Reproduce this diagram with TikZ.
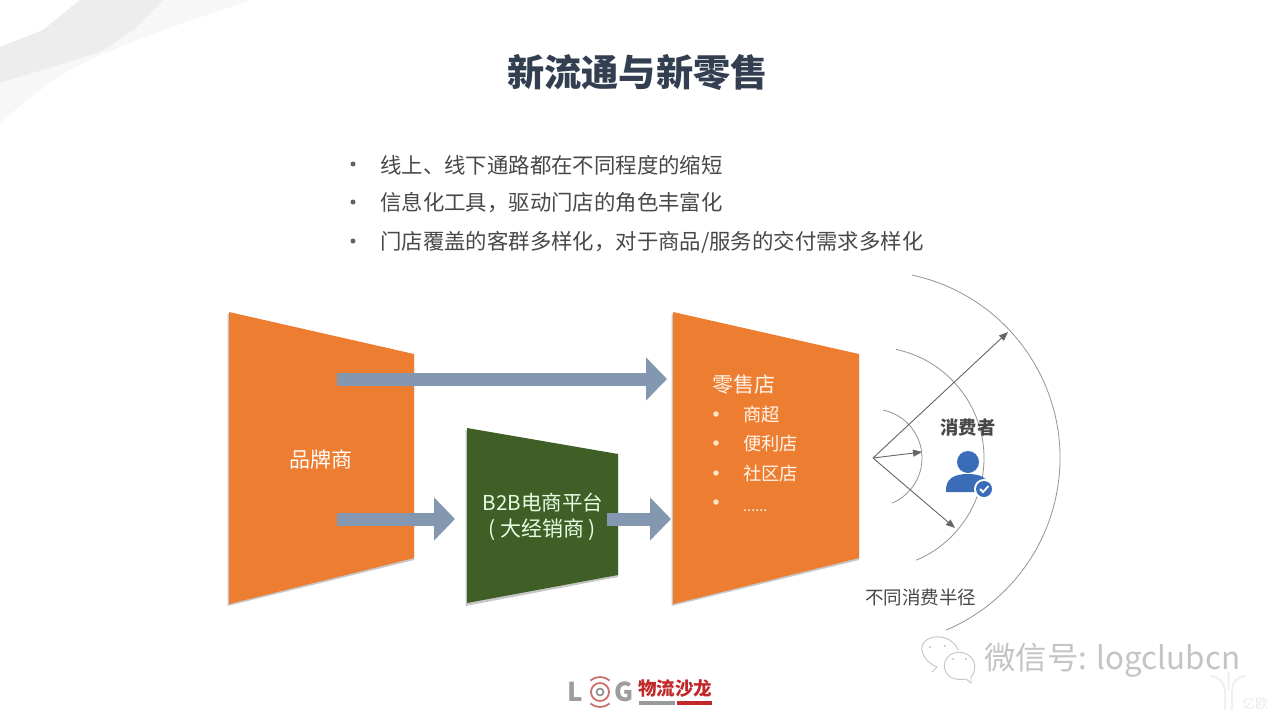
\documentclass[tikz,border=0pt]{standalone}
\usepackage{fontspec}
\usetikzlibrary{arrows.meta,calc}
\setmainfont{Noto Sans CJK SC}
\definecolor{orangebox}{HTML}{ED7D31}
\definecolor{greenbox}{HTML}{3F5F26}
\definecolor{flow}{HTML}{8497B0}
\definecolor{titlecol}{HTML}{333F50}
\definecolor{bodycol}{HTML}{484848}
\definecolor{iconblue}{HTML}{3A6CB8}
\definecolor{wm}{HTML}{C4C4C4}
\definecolor{logored}{HTML}{C0282A}
\definecolor{logopink}{HTML}{C9706C}
\tikzset{
  x=1pt,y=-1pt,
  boxshadow/.style={fill=black,opacity=.22,draw=none},
  orangeshape/.style={fill=orangebox,draw=none},
  greenshape/.style={fill=greenbox,draw=none},
  flowarrow/.style={draw=flow,line width=13pt,-{Triangle[length=21pt,width=42pt]}},
  radiusarc/.style={draw=black!42,line width=.8pt},
  radiusarrow/.style={draw=black!60,line width=.9pt,-{Triangle[length=9pt,width=7pt]}},
  bullettext/.style={anchor=west,text=bodycol,font=\fontsize{21.4}{24}\selectfont,inner sep=0pt},
  dotmark/.style={circle,fill=black!62,draw=none,minimum size=5pt,inner sep=0pt},
  boxtext/.style={text=white,inner sep=0pt},
  storebullet/.style={circle,fill=orange!20!white,draw=none,minimum size=5.5pt,inner sep=0pt},
  storeitem/.style={anchor=west,text=orange!8!white,font=\fontsize{18.3}{22}\selectfont,inner sep=0pt},
}
\begin{document}
\begin{tikzpicture}
\useasboundingbox (0,0) rectangle (1280,720);
\fill[white] (0,0) rectangle (1280,720);
% background swoosh
\fill[black!3] (0,47) -- (43,30) -- (80,0) -- (250,0) .. controls (200,18) and (150,32) .. (83,63) .. controls (60,75) and (40,88) .. (0,123) -- cycle;
\fill[black!7] (0,47) -- (43,30) -- (80,0) -- (163,0) -- (133,30) -- (100,52) -- (0,83) -- cycle;
% title and bullets
\node[inner sep=0pt,text=titlecol,font=\fontsize{37.2}{40}\selectfont\bfseries] (title) at (637.5,73) {新流通与新零售};
\node[dotmark] (d1) at (353,164) {};
\node[dotmark] (d2) at (353,202) {};
\node[dotmark] (d3) at (353,241) {};
\node[bullettext] (b1) at (380,165) {线上、线下通路都在不同程度的缩短};
\node[bullettext] (b2) at (380,203) {信息化工具，驱动门店的角色丰富化};
\node[bullettext] (b3) at (380,242) {门店覆盖的客群多样化，对于商品/服务的交付需求多样化};
% shapes
\fill[boxshadow] (227.5,314) -- (414,356) -- (414,560) -- (227.5,606) -- cycle;
\fill[orangeshape] (229,312) -- (414,354) -- (414,558) -- (229,604) -- cycle;
\fill[boxshadow] (465.5,430) -- (618,456) -- (618,577) -- (465.5,606) -- cycle;
\fill[greenshape] (467,428) -- (618,454) -- (618,575) -- (467,603) -- cycle;
\fill[boxshadow] (671.5,314) -- (859,356) -- (859,560) -- (671.5,606) -- cycle;
\fill[orangeshape] (673,312) -- (859,354) -- (859,558) -- (673,604) -- cycle;
% labels in shapes
\node[boxtext,font=\fontsize{21}{24}\selectfont] (brand) at (321,459) {品牌商};
\node[boxtext,text=green!10!white,font=\fontsize{20.6}{24}\selectfont] (b2b) at (543,503) {B2B电商平台};
\node[boxtext,text=green!10!white,font=\fontsize{21}{24}\selectfont] (dealer) at (542,530) {( 大经销商 )};
\node[boxtext,text=orange!8!white,anchor=west,font=\fontsize{21}{24}\selectfont] (store) at (712,385) {零售店};
\node[storebullet] (s1) at (716,414) {};
\node[storebullet] (s2) at (716,443) {};
\node[storebullet] (s3) at (716,473) {};
\node[storebullet] (s4) at (716,502) {};
\node[storeitem] (i1) at (743,415) {商超};
\node[storeitem] (i2) at (743,444) {便利店};
\node[storeitem] (i3) at (743,474) {社区店};
\node[storeitem,anchor=base west,font=\fontsize{14.5}{16}\selectfont] (i4) at (743,511) {......};
% flow arrows
\coordinate (a1s) at (337,379); \coordinate (a1e) at (667,379);
\coordinate (a2s) at (337,519); \coordinate (a2e) at (455,519);
\coordinate (a3s) at (607,519); \coordinate (a3e) at (671,519);
\draw[flowarrow] (a1s) -- (a1e);
\draw[flowarrow] (a2s) -- (a2e);
\draw[flowarrow] (a3s) -- (a3e);
% radius arcs and arrows
\coordinate (c) at (873,458);
\coordinate (t1) at (1008,332); \coordinate (t2) at (922,452); \coordinate (t3) at (955,528);
\draw[radiusarc] ($(c)+(-78:49)$) arc[start angle=-78,end angle=67,radius=49];
\draw[radiusarc] ($(c)+(-78:111)$) arc[start angle=-78,end angle=67,radius=111];
\draw[radiusarc] ($(c)+(-78:187)$) arc[start angle=-78,end angle=67,radius=187];
\draw[radiusarrow] (c) -- (t1);
\draw[radiusarrow] (c) -- (t2);
\draw[radiusarrow] (c) -- (t3);
% consumer
\node[inner sep=0pt,text=bodycol,font=\fontsize{18.3}{22}\selectfont\bfseries] (cons) at (968,428) {消费者};
\fill[iconblue] (968,462) circle[radius=11];
\fill[iconblue] (946,492) .. controls (945,478) and (955,474) .. (968,474) .. controls (981,474) and (990,478) .. (990,492) -- cycle;
\fill[white] (984,489) circle[radius=10];
\fill[iconblue] (984,489) circle[radius=8];
\draw[white,line width=1.8pt] (980,489) -- (983,492) -- (988.5,486);
\node[inner sep=0pt,text=bodycol,font=\fontsize{18.5}{22}\selectfont] (radius) at (920.5,597) {不同消费半径};
% logo
\node[inner sep=0pt,text=black!38,font=\fontsize{26}{28}\selectfont\bfseries] (logoL) at (575,692) {L};
\draw[black!45,line width=1.6pt] (600,692) circle[radius=3.5];
\draw[logopink,line width=1.8pt] (600,692) circle[radius=9];
\draw[logopink,line width=1.8pt] ($(600,692)+(-130:15)$) arc[start angle=-130,end angle=-50,radius=15];
\draw[logopink,line width=1.8pt] ($(600,692)+(50:15)$) arc[start angle=50,end angle=130,radius=15];
\node[inner sep=0pt,text=black!38,font=\fontsize{26}{28}\selectfont\bfseries] (logoG) at (624,692) {G};
\node[inner sep=0pt,text=logored,font=\fontsize{18.5}{20}\selectfont\bfseries] (logoT) at (675,689) {物流沙龙};
\fill[black!40] (639,701) rectangle (675,705);
\fill[logored] (677,701) rectangle (712,705);
% watermark
\draw[wm,line width=.9pt] (932,672) -- (937,667) .. controls (921,660) and (917,645) .. (928,639) .. controls (940,633) and (955,640) .. (958,650);
\draw[wm,line width=.9pt] (971,683) -- (966,679) .. controls (950,682) and (942,672) .. (945,662) .. controls (948,650) and (968,648) .. (974,662) .. controls (976,670) and (973,675) .. (971,677) -- cycle;
\fill[wm] (930,647) circle[radius=1.2] (945,646) circle[radius=1.2] (953,659) circle[radius=1.2] (966,659) circle[radius=1.2];
\node[inner sep=0pt,anchor=west,text=wm,font=\fontsize{31.4}{36}\selectfont] (wx) at (984,660) {微信号: logclubcn};
\node[inner sep=0pt,text=black!8,font=\fontsize{13}{15}\selectfont] (yiou) at (1255,704) {亿欧};
\draw[black!6,line width=2pt] (1225,710) -- (1225,692) .. controls (1225,680) and (1215,676) .. (1210,676) (1232,710) -- (1232,692) .. controls (1232,680) and (1240,676) .. (1246,676) (1228.5,690) -- (1228.5,672);
\end{tikzpicture}
\end{document}
